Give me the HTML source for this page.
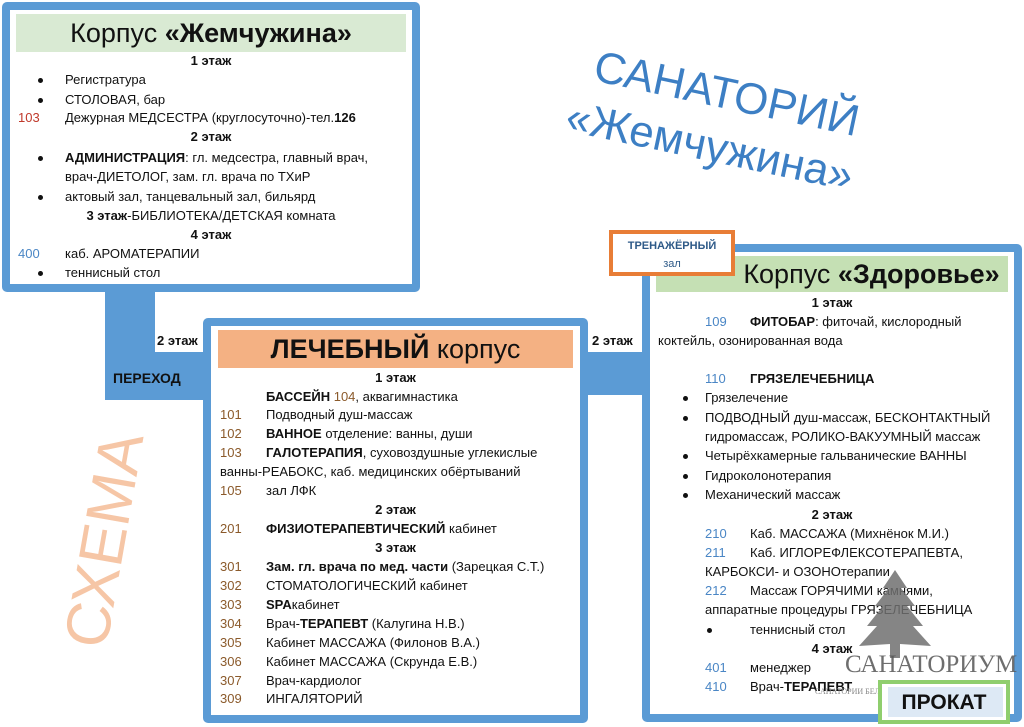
<!DOCTYPE html>
<html><head><meta charset="utf-8"><style>
*{margin:0;padding:0;box-sizing:border-box}
body{width:1024px;height:727px;background:#fff;position:relative;overflow:hidden;font-family:"Liberation Sans","Noto Sans CJK SC",sans-serif;font-size:13px;color:#111}
.a{position:absolute;white-space:nowrap;line-height:16px}
.box{position:absolute;border:8px solid #5b9bd5;border-radius:5px;background:#fff}
.c{text-align:center;font-weight:bold}
.r{color:#c0392b}.bl{color:#4a86c5}.br{color:#8b5a2b}
.dot{position:absolute;width:5px;height:5px;border-radius:50%;background:#111}
b{font-weight:bold}
</style></head><body>
<!-- connectors -->
<div style="position:absolute;left:105px;top:285px;width:50px;height:115px;background:#5b9bd5"></div>
<div style="position:absolute;left:105px;top:352px;width:105px;height:48px;background:#5b9bd5"></div>
<div style="position:absolute;left:580px;top:352px;width:70px;height:43px;background:#5b9bd5"></div>
<div class="a" style="left:157px;top:333px;font-weight:bold">2 этаж</div>
<div class="a" style="left:113px;top:370px;font-weight:bold;font-size:14px">ПЕРЕХОД</div>
<div class="a" style="left:592px;top:333px;font-weight:bold">2 этаж</div>

<!-- big labels -->
<div class="a" style="left:600px;top:42px;font-size:44px;line-height:50px;color:#3d7fc4;transform:rotate(12deg);transform-origin:left top">САНАТОРИЙ</div>
<div class="a" style="left:572px;top:92px;font-size:44px;line-height:50px;color:#3d7fc4;transform:rotate(12deg);transform-origin:left top">«Жемчужина»</div>
<div class="a" style="left:-10px;top:508px;font-size:62px;line-height:64px;color:#f6c6a6;transform:rotate(-80deg);transform-origin:center;width:230px;text-align:center">СХЕМА</div>

<!-- box 1 -->
<div class="box" style="left:2px;top:2px;width:418px;height:290px"></div>
<div style="position:absolute;left:16px;top:14px;width:390px;height:38px;background:#d9ead3"></div>
<div class="a" style="left:16px;top:16px;width:390px;text-align:center;font-size:27px;line-height:34px">Корпус <b>«Жемчужина»</b></div>
<div class="a c" style="left:16px;top:53px;width:390px">1 этаж</div>
<div class="dot" style="left:38px;top:78px"></div><div class="a" style="left:65px;top:72px">Регистратура</div>
<div class="dot" style="left:38px;top:98px"></div><div class="a" style="left:65px;top:92px">СТОЛОВАЯ, бар</div>
<div class="a r" style="left:18px;top:110px">103</div><div class="a" style="left:65px;top:110px">Дежурная МЕДСЕСТРА (круглосуточно)-тел.<b>126</b></div>
<div class="a c" style="left:16px;top:129px;width:390px">2 этаж</div>
<div class="dot" style="left:38px;top:156px"></div><div class="a" style="left:65px;top:150px"><b>АДМИНИСТРАЦИЯ</b>: гл. медсестра, главный врач,</div>
<div class="a" style="left:65px;top:169px">врач-ДИЕТОЛОГ, зам. гл. врача по ТХиР</div>
<div class="dot" style="left:38px;top:195px"></div><div class="a" style="left:65px;top:189px">актовый зал, танцевальный зал, бильярд</div>
<div class="a" style="left:16px;top:208px;width:390px;text-align:center"><b>3 этаж</b>-БИБЛИОТЕКА/ДЕТСКАЯ комната</div>
<div class="a c" style="left:16px;top:227px;width:390px">4 этаж</div>
<div class="a bl" style="left:18px;top:246px">400</div><div class="a" style="left:65px;top:246px">каб. АРОМАТЕРАПИИ</div>
<div class="dot" style="left:38px;top:271px"></div><div class="a" style="left:65px;top:265px">теннисный стол</div>

<!-- box 2 -->
<div class="box" style="left:203px;top:318px;width:385px;height:405px"></div>
<div style="position:absolute;left:218px;top:330px;width:355px;height:38px;background:#f4b183"></div>
<div class="a" style="left:218px;top:332px;width:355px;text-align:center;font-size:27px;line-height:34px"><b>ЛЕЧЕБНЫЙ</b> корпус</div>
<div class="a c" style="left:218px;top:370px;width:355px">1 этаж</div>
<div class="a" style="left:266px;top:389px"><b>БАССЕЙН</b> <span class="br">104</span>, аквагимнастика</div>
<div class="a br" style="left:220px;top:407px">101</div><div class="a" style="left:266px;top:407px">Подводный душ-массаж</div>
<div class="a br" style="left:220px;top:426px">102</div><div class="a" style="left:266px;top:426px"><b>ВАННОЕ</b> отделение: ванны, души</div>
<div class="a br" style="left:220px;top:445px">103</div><div class="a" style="left:266px;top:445px"><b>ГАЛОТЕРАПИЯ</b>, суховоздушные углекислые</div>
<div class="a" style="left:220px;top:464px">ванны-РЕАБОКС, каб. медицинских обёртываний</div>
<div class="a br" style="left:220px;top:483px">105</div><div class="a" style="left:266px;top:483px">зал ЛФК</div>
<div class="a c" style="left:218px;top:502px;width:355px">2 этаж</div>
<div class="a br" style="left:220px;top:521px">201</div><div class="a" style="left:266px;top:521px"><b>ФИЗИОТЕРАПЕВТИЧЕСКИЙ</b> кабинет</div>
<div class="a c" style="left:218px;top:540px;width:355px">3 этаж</div>
<div class="a br" style="left:220px;top:559px">301</div><div class="a" style="left:266px;top:559px"><b>Зам. гл. врача по мед. части</b> (Зарецкая С.Т.)</div>
<div class="a br" style="left:220px;top:578px">302</div><div class="a" style="left:266px;top:578px">СТОМАТОЛОГИЧЕСКИЙ кабинет</div>
<div class="a br" style="left:220px;top:597px">303</div><div class="a" style="left:266px;top:597px"><b>SPA</b>кабинет</div>
<div class="a br" style="left:220px;top:616px">304</div><div class="a" style="left:266px;top:616px">Врач-<b>ТЕРАПЕВТ</b> (Калугина Н.В.)</div>
<div class="a br" style="left:220px;top:635px">305</div><div class="a" style="left:266px;top:635px">Кабинет МАССАЖА (Филонов В.А.)</div>
<div class="a br" style="left:220px;top:654px">306</div><div class="a" style="left:266px;top:654px">Кабинет МАССАЖА (Скрунда Е.В.)</div>
<div class="a br" style="left:220px;top:673px">307</div><div class="a" style="left:266px;top:673px">Врач-кардиолог</div>
<div class="a br" style="left:220px;top:691px">309</div><div class="a" style="left:266px;top:691px">ИНГАЛЯТОРИЙ</div>

<!-- box 3 -->
<div class="box" style="left:642px;top:244px;width:380px;height:478px"></div>
<div style="position:absolute;left:656px;top:256px;width:352px;height:36px;background:#c5e0b4"></div>
<div class="a" style="left:735px;top:257px;width:273px;text-align:center;font-size:27px;line-height:34px">Корпус <b>«Здоровье»</b></div>
<div style="position:absolute;left:609px;top:230px;width:126px;height:46px;border:4px solid #e87d36;background:#fff"></div>
<div class="a" style="left:609px;top:238px;width:126px;text-align:center;font-size:11px;font-weight:bold;color:#2e5a88">ТРЕНАЖЁРНЫЙ</div>
<div class="a" style="left:609px;top:256px;width:126px;text-align:center;font-size:11px;color:#2e5a88">зал</div>
<div class="a c" style="left:656px;top:295px;width:352px">1 этаж</div>
<div class="a bl" style="left:705px;top:314px">109</div><div class="a" style="left:750px;top:314px"><b>ФИТОБАР</b>: фиточай, кислородный</div>
<div class="a" style="left:658px;top:333px">коктейль, озонированная вода</div>
<div class="a bl" style="left:705px;top:371px">110</div><div class="a" style="left:750px;top:371px"><b>ГРЯЗЕЛЕЧЕБНИЦА</b></div>
<div class="dot" style="left:683px;top:396px"></div><div class="a" style="left:705px;top:390px">Грязелечение</div>
<div class="dot" style="left:683px;top:416px"></div><div class="a" style="left:705px;top:410px">ПОДВОДНЫЙ душ-массаж, БЕСКОНТАКТНЫЙ</div>
<div class="a" style="left:705px;top:429px">гидромассаж, РОЛИКО-ВАКУУМНЫЙ массаж</div>
<div class="dot" style="left:683px;top:454px"></div><div class="a" style="left:705px;top:448px">Четырёхкамерные гальванические ВАННЫ</div>
<div class="dot" style="left:683px;top:474px"></div><div class="a" style="left:705px;top:468px">Гидроколонотерапия</div>
<div class="dot" style="left:683px;top:493px"></div><div class="a" style="left:705px;top:487px">Механический массаж</div>
<div class="a c" style="left:656px;top:507px;width:352px">2 этаж</div>
<div class="a bl" style="left:705px;top:526px">210</div><div class="a" style="left:750px;top:526px">Каб. МАССАЖА (Михнёнок М.И.)</div>
<div class="a bl" style="left:705px;top:545px">211</div><div class="a" style="left:750px;top:545px">Каб. ИГЛОРЕФЛЕКСОТЕРАПЕВТА,</div>
<div class="a" style="left:705px;top:564px">КАРБОКСИ- и ОЗОНОтерапии</div>
<div class="a bl" style="left:705px;top:583px">212</div><div class="a" style="left:750px;top:583px">Массаж ГОРЯЧИМИ камнями,</div>
<div class="a" style="left:705px;top:602px">аппаратные процедуры ГРЯЗЕЛЕЧЕБНИЦА</div>
<div class="dot" style="left:707px;top:628px"></div><div class="a" style="left:750px;top:622px">теннисный стол</div>
<div class="a c" style="left:656px;top:641px;width:352px">4 этаж</div>
<div class="a bl" style="left:705px;top:660px">401</div><div class="a" style="left:750px;top:660px">менеджер</div>
<div class="a bl" style="left:705px;top:679px">410</div><div class="a" style="left:750px;top:679px">Врач-<b>ТЕРАПЕВТ</b></div>

<!-- watermark -->
<svg style="position:absolute;left:845px;top:570px" width="100" height="90" viewBox="0 0 100 90">
<polygon points="50,0 38,18 44,18 30,36 38,36 22,56 32,56 14,76 45,74 45,88 55,88 55,74 86,76 68,56 78,56 62,36 70,36 56,18 62,18" fill="#707070" opacity="0.85"/>
</svg>
<div class="a" style="left:845px;top:650px;font-family:'Liberation Serif',serif;font-size:25px;line-height:30px;color:#555;opacity:.85">САНАТОРИУМ</div>
<div class="a" style="left:815px;top:684px;font-family:'Liberation Serif',serif;font-size:8px;color:#888">САНАТОРИИ БЕЛАРУСИ</div>

<div style="position:absolute;left:878px;top:680px;width:132px;height:44px;border:4px solid #8fce6e;background:#fff"></div>
<div style="position:absolute;left:888px;top:687px;width:115px;height:30px;background:#dde9f5"></div>
<div class="a" style="left:882px;top:690px;width:124px;text-align:center;font-size:21px;line-height:26px;font-weight:bold">ПРОКАТ</div>
</body></html>
